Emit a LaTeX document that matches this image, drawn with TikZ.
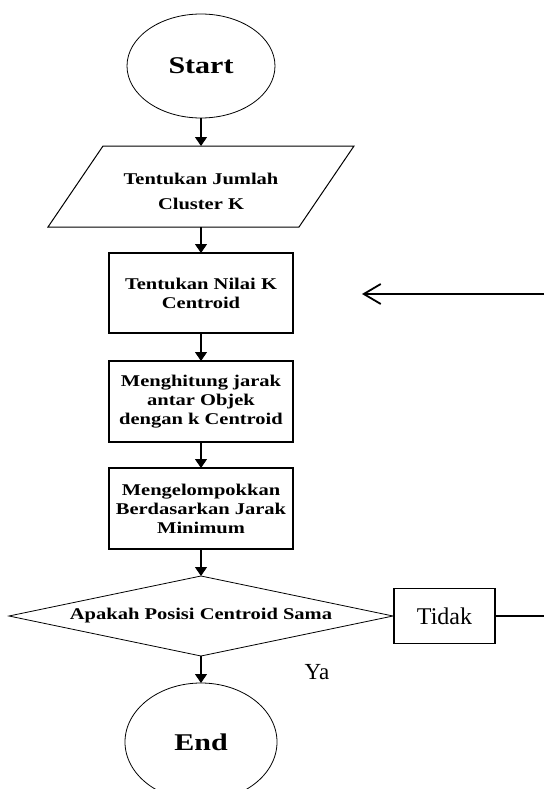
\documentclass[tikz,border=0pt]{standalone}
\usepackage{fontspec}
\setmainfont{Liberation Serif}
\newfontfamily\wideserif{Liberation Serif}[FakeStretch=1.25]
\usepackage{tikz}
\usetikzlibrary{positioning,calc,arrows.meta,shapes.geometric}

\tikzset{
	terminal/.style={draw, ellipse, line width=0.8pt, inner sep=0pt, outer sep=0pt,
		font=\wideserif\bfseries\fontsize{24}{28}\selectfont},
	iobox/.style={inner sep=0pt, outer sep=0pt, minimum width=251pt, minimum height=81pt, align=center,
		font=\wideserif\bfseries\fontsize{16.4}{25.5}\selectfont},
	process/.style={draw, line width=1.3pt, inner sep=0pt, outer sep=0pt, minimum width=184pt,
		minimum height=80pt, align=center,
		font=\wideserif\bfseries\fontsize{16.4}{19}\selectfont},
	decision/.style={draw, diamond, aspect=4.8, line width=0.8pt, inner sep=0pt, outer sep=0pt,
		minimum width=384pt, minimum height=80pt,
		font=\wideserif\bfseries\fontsize{16.4}{19}\selectfont},
	answer/.style={draw, line width=1.8pt, inner sep=0pt, outer sep=0pt, minimum width=101pt,
		minimum height=55pt, font=\fontsize{24}{28}\selectfont},
	flow/.style={line width=1.2pt, -{Triangle[width=12pt,length=9pt]}}
}

\begin{document}
\begin{tikzpicture}[x=1pt,y=-1pt]
		\useasboundingbox (0,0) rectangle (544,789);
		\node[terminal, minimum width=148pt, minimum height=104pt] (start) at (201,66) {Start};
		\node[iobox, below = 28pt of start] (jumlah) {\rule{0pt}{21pt}Tentukan Jumlah\\Cluster K};
		\draw[line width=1pt] ($(jumlah.north west)+(27.5pt,0)$) -- ($(jumlah.north east)+(27.5pt,0)$)
		-- ($(jumlah.south east)-(27.5pt,0)$) -- ($(jumlah.south west)-(27.5pt,0)$) -- cycle;
		\node[process, below = 26pt of jumlah] (nilai) {Tentukan Nilai K\\Centroid};
		\node[process, below = 28pt of nilai, minimum height=81pt] (hitung) {Menghitung jarak\\antar Objek\\dengan k Centroid};
		\node[process, below = 26pt of hitung, minimum height=81pt] (kelompok) {Mengelompokkan\\Berdasarkan Jarak\\Minimum};
		\node[decision, below = 27pt of kelompok] (posisi) {Apakah Posisi Centroid Sama};
		\node[terminal, below = 27pt of posisi, minimum width=152pt, minimum height=118pt] (end) {End};
		\node[answer, right = 1pt of posisi] (tidak) {Tidak};
		\node[font=\fontsize{23}{27}\selectfont] (ya) at (317,672) {Ya};
		% arus utama
		\draw[flow] (start) -- (jumlah);
		\draw[flow] (jumlah) -- (nilai);
		\draw[flow] (nilai) -- (hitung);
		\draw[flow] (hitung) -- (kelompok);
		\draw[flow] (kelompok) -- (posisi);
		\draw[flow] (posisi) -- (end);
		% kembali ke centroid
		\coordinate (loopout) at (544,616);
		\coordinate (loopin) at (544,294);
		\coordinate (loophead) at (362,294);
		\draw[line width=1.8pt] (tidak) -- (loopout);
		\draw[line width=1.8pt, -{Straight Barb[length=17pt,width=20pt]}] (loopin) -- (loophead);
	\end{tikzpicture}
\end{document}
